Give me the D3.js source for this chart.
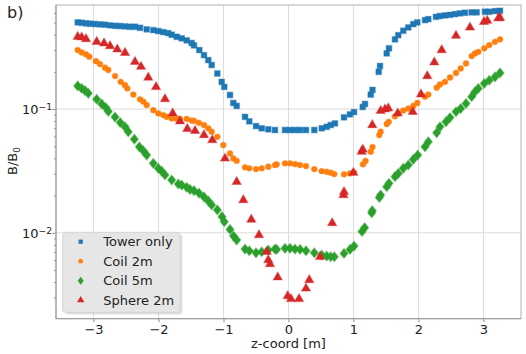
<!DOCTYPE html>
<html><head><meta charset="utf-8">
<script src="https://cdn.jsdelivr.net/npm/d3@7"></script>
<style>body{margin:0;background:#fff}svg{display:block;font-family:"DejaVu Sans",sans-serif}</style>
</head><body><svg id="c" width="526" height="354"></svg>
<script>
const towerX=[-3.243,-3.18,-3.115,-3.054,-2.977,-2.9,-2.823,-2.746,-2.669,-2.592,-2.515,-2.438,-2.362,-2.285,-2.182,-2.08,-2.003,-1.926,-1.849,-1.797,-1.72,-1.643,-1.566,-1.489,-1.454,-1.372,-1.3,-1.234,-1.182,-1.095,-1.028,-0.988,-0.9,-0.849,-0.797,-0.669,-0.603,-0.5,-0.412,-0.311,-0.208,-0.054,0.023,0.1,0.177,0.269,0.397,0.511,0.588,0.649,0.715,0.854,0.946,1.008,1.142,1.177,1.265,1.292,1.388,1.408,1.511,1.546,1.638,1.689,1.766,1.843,1.92,1.982,2.1,2.151,2.269,2.331,2.408,2.485,2.562,2.638,2.715,2.818,2.895,3.023,3.089,3.177,3.254];
const towerY=[0.502,0.499,0.493,0.490,0.487,0.484,0.481,0.475,0.471,0.469,0.466,0.463,0.463,0.454,0.441,0.435,0.427,0.419,0.411,0.399,0.384,0.373,0.359,0.342,0.327,0.300,0.273,0.249,0.227,0.194,0.166,0.151,0.130,0.112,0.106,0.0866,0.0796,0.0729,0.0699,0.0686,0.0677,0.0677,0.0677,0.0677,0.0677,0.0677,0.0677,0.0699,0.0719,0.0743,0.0766,0.0857,0.0906,0.0946,0.104,0.110,0.131,0.143,0.200,0.223,0.282,0.310,0.366,0.396,0.430,0.457,0.486,0.502,0.524,0.534,0.557,0.565,0.572,0.578,0.586,0.594,0.601,0.605,0.605,0.612,0.612,0.620,0.623];
const coil2X=[-3.243,-3.182,-3.115,-3.065,-2.962,-2.9,-2.823,-2.772,-2.669,-2.582,-2.515,-2.48,-2.388,-2.285,-2.234,-2.182,-2.08,-2.003,-1.926,-1.874,-1.797,-1.72,-1.669,-1.566,-1.489,-1.454,-1.38,-1.3,-1.234,-1.182,-1.095,-1.003,-0.9,-0.849,-0.797,-0.669,-0.603,-0.5,-0.412,-0.311,-0.208,-0.182,-0.054,0.023,0.1,0.177,0.269,0.397,0.511,0.588,0.649,0.705,0.854,0.946,1.008,1.146,1.185,1.266,1.292,1.397,1.418,1.511,1.542,1.638,1.689,1.766,1.843,1.92,1.982,2.1,2.151,2.28,2.331,2.408,2.485,2.577,2.649,2.731,2.818,2.869,2.92,3.012,3.089,3.177,3.254];
const coil2Y=[0.300,0.287,0.277,0.265,0.244,0.231,0.216,0.207,0.185,0.166,0.156,0.147,0.131,0.120,0.115,0.108,0.098,0.0923,0.0894,0.0866,0.0841,0.0835,0.0833,0.0833,0.0807,0.0804,0.0775,0.0743,0.0699,0.0656,0.0597,0.0512,0.0438,0.0399,0.0382,0.0338,0.0332,0.0327,0.0332,0.0342,0.0353,0.0357,0.0364,0.0364,0.0359,0.0353,0.0346,0.0327,0.0315,0.0311,0.0306,0.0298,0.0297,0.0302,0.0308,0.0358,0.0381,0.0452,0.0493,0.0617,0.0656,0.0756,0.0789,0.0873,0.0923,0.0973,0.101,0.106,0.112,0.126,0.131,0.149,0.158,0.166,0.180,0.196,0.213,0.234,0.268,0.282,0.290,0.310,0.329,0.350,0.366];
const coil5X=[-3.243,-3.182,-3.131,-3.08,-2.951,-2.874,-2.808,-2.772,-2.669,-2.588,-2.515,-2.465,-2.372,-2.295,-2.234,-2.182,-2.08,-2.003,-1.951,-1.9,-1.797,-1.695,-1.643,-1.566,-1.515,-1.454,-1.377,-1.3,-1.234,-1.182,-1.095,-1.023,-0.988,-0.9,-0.846,-0.797,-0.669,-0.603,-0.5,-0.412,-0.311,-0.208,-0.182,-0.054,0.023,0.1,0.177,0.269,0.397,0.511,0.588,0.649,0.705,0.854,0.946,1.008,1.131,1.172,1.28,1.289,1.397,1.418,1.511,1.546,1.638,1.689,1.766,1.843,1.92,1.988,2.1,2.151,2.28,2.331,2.423,2.485,2.577,2.649,2.731,2.818,2.869,2.92,3.012,3.089,3.177,3.254];
const coil5Y=[0.154,0.147,0.141,0.134,0.120,0.110,0.1025,0.0958,0.0862,0.0778,0.0719,0.0655,0.0571,0.0495,0.0460,0.0425,0.0364,0.0332,0.0315,0.0293,0.0267,0.0248,0.0243,0.0233,0.0224,0.0219,0.0209,0.0195,0.0181,0.0168,0.0153,0.0135,0.0123,0.01065,0.0094,0.00873,0.00738,0.00715,0.00689,0.00702,0.00724,0.00738,0.00734,0.00748,0.00748,0.00738,0.00734,0.00715,0.00689,0.00660,0.00648,0.00640,0.00640,0.00681,0.00734,0.00780,0.01026,0.0110,0.0145,0.0151,0.0193,0.0202,0.0236,0.0251,0.0284,0.0302,0.0332,0.0353,0.0392,0.0425,0.0495,0.0544,0.0643,0.0719,0.0789,0.0853,0.0951,0.101,0.111,0.126,0.138,0.147,0.161,0.171,0.182,0.196];
const sphereX=[-3.243,-3.182,-3.115,-2.951,-2.838,-2.746,-2.634,-2.515,-2.362,-2.269,-2.157,-2.038,-1.9,-1.782,-1.669,-1.557,-1.438,-1.3,-1.172,-0.977,-0.797,-0.695,-0.572,-0.454,-0.335,-0.311,-0.285,-0.166,-0.012,0.038,0.162,0.269,0.32,0.485,0.672,0.846,0.854,0.997,1.126,1.142,1.289,1.418,1.485,1.535,1.68,1.911,2.038,2.135,2.243,2.357,2.577,2.792,3.008,3.058,3.228,3.254];
const sphereY=[0.384,0.380,0.368,0.350,0.340,0.323,0.304,0.285,0.241,0.220,0.180,0.151,0.1204,0.0923,0.0797,0.0692,0.0668,0.0617,0.0561,0.0399,0.0258,0.0184,0.0128,0.00957,0.00702,0.00601,0.00558,0.00436,0.00308,0.00292,0.00292,0.00355,0.00415,0.00640,0.01197,0.0202,0.0214,0.0306,0.0452,0.0472,0.0743,0.0967,0.0995,0.1013,0.0923,0.0951,0.1316,0.185,0.239,0.300,0.392,0.457,0.508,0.518,0.541,0.547];
const xTicks=[-3,-2,-1,0,1,2,3];
const yTicks=[0.01,0.1];
const seriesNames=["Tower only","Coil 2m","Coil 5m","Sphere 2m"];
const seriesColors=["#1f77b4","#ff7f0e","#2ca02c","#d62728"];

const svg=d3.select("#c");
const L=56,R=521,T=5,B=318.7;
const x=d3.scaleLinear().domain([-3.577,3.577]).range([L,R]);
const y=d3.scaleLog().domain([0.00202,0.694]).range([B,T]);

// grid
const g=svg.append("g");
g.selectAll("line.vx").data(xTicks).enter().append("line")
 .attr("x1",d=>x(d)).attr("x2",d=>x(d)).attr("y1",T).attr("y2",B)
 .attr("stroke","#dcdcdc").attr("stroke-width",1);
g.selectAll("line.hy").data(yTicks).enter().append("line")
 .attr("y1",d=>y(d)).attr("y2",d=>y(d)).attr("x1",L).attr("x2",R)
 .attr("stroke","#dcdcdc").attr("stroke-width",1);

// axes
const xAxis=d3.axisBottom(x).tickValues(xTicks).tickSize(3.5).tickPadding(3)
 .tickFormat(d=>d<0?"\u2212"+Math.abs(d):String(d));
const gx=svg.append("g").attr("transform",`translate(0,${B})`).call(xAxis);
gx.select(".domain").remove();
gx.selectAll("line").attr("stroke","#888");
gx.selectAll("text").attr("font-size",13).attr("fill","#222").attr("font-family","DejaVu Sans");

const minor=[];
for(const e of [-3,-2,-1]) for(let k=2;k<10;k++){const v=k*Math.pow(10,e); if(v>=0.00202&&v<=0.694) minor.push(v);}
const gyMinor=svg.append("g").attr("transform",`translate(${L},0)`)
 .call(d3.axisLeft(y).tickValues(minor).tickSize(2).tickFormat(""));
gyMinor.select(".domain").remove();
gyMinor.selectAll("line").attr("stroke","#888");
const gy=svg.append("g").attr("transform",`translate(${L},0)`)
 .call(d3.axisLeft(y).tickValues(yTicks).tickSize(3.5).tickPadding(4).tickFormat(""));
gy.select(".domain").remove();
gy.selectAll("line").attr("stroke","#888");
gy.selectAll(".tick").each(function(d){
  const t=d3.select(this).append("text").attr("x",-4).attr("dy","0.35em").attr("text-anchor","end")
   .attr("font-size",13).attr("fill","#222").attr("font-family","DejaVu Sans");
  t.append("tspan").text("10");
  t.append("tspan").attr("dy","-0.45em").attr("font-size",9.2).text("\u2212"+Math.abs(Math.round(Math.log10(d))));
});

// frame
svg.append("rect").attr("x",L).attr("y",T).attr("width",R-L).attr("height",B-T)
 .attr("fill","none").attr("stroke","#b0b0b0").attr("stroke-width",1);
svg.append("line").attr("x1",L).attr("x2",L).attr("y1",T).attr("y2",B).attr("stroke","#999");
svg.append("line").attr("x1",L).attr("x2",R).attr("y1",B).attr("y2",B).attr("stroke","#999");

// markers
const sym=[d3.symbolSquare,d3.symbolCircle,d3.symbolDiamond,d3.symbolTriangle];
const sizes=[32,26,30,36];
const data=[[towerX,towerY],[coil2X,coil2Y],[coil5X,coil5Y],[sphereX,sphereY]];
const plot=svg.append("g");
data.forEach(([xs,ys],i)=>{
  const pts=xs.map((v,j)=>[v,ys[j]]);
  plot.append("g").selectAll("path").data(pts).enter().append("path")
   .attr("d",d3.symbol().type(sym[i]).size(sizes[i]))
   .attr("transform",d=>`translate(${x(d[0])},${y(d[1])})`+(i===2?" scale(1.35,0.95)":""))
   .attr("fill",seriesColors[i]).attr("stroke",seriesColors[i]).attr("stroke-opacity",0.35).attr("stroke-width",1.2);
});

// legend
const lg=svg.append("g");
lg.append("rect").attr("x",65).attr("y",234.5).attr("width",117.5).attr("height",80).attr("rx",3)
 .attr("fill","#000").attr("opacity",0.12);
lg.append("rect").attr("x",62.7).attr("y",232.3).attr("width",117.5).attr("height",80).attr("rx",3)
 .attr("fill","#e6e6e6").attr("stroke","#d0d0d0").attr("stroke-width",0.8);
seriesNames.forEach((n,i)=>{
  const yy=241.7+i*19.5;
  lg.append("path").attr("d",d3.symbol().type(sym[i]).size(i===3?24:18))
   .attr("transform",`translate(80.7,${yy})`+(i===2?" scale(1.3,1)":"")).attr("fill",seriesColors[i]);
  lg.append("text").attr("x",103.3).attr("y",yy).attr("dy","0.36em").attr("font-size",13)
   .attr("fill","#222").text(n);
});

// labels
svg.append("text").attr("x",288.5).attr("y",348).attr("text-anchor","middle").attr("font-size",13).attr("fill","#222").text("z-coord [m]");
const yl=svg.append("text").attr("transform","translate(17,161) rotate(-90)").attr("text-anchor","middle").attr("font-size",13).attr("fill","#222");
yl.append("tspan").text("B/B");
yl.append("tspan").attr("font-size",9).attr("dy","0.3em").text("0");
svg.append("text").attr("x",7).attr("y",18).attr("font-size",16).attr("fill","#222").text("b)");
</script></body></html>
